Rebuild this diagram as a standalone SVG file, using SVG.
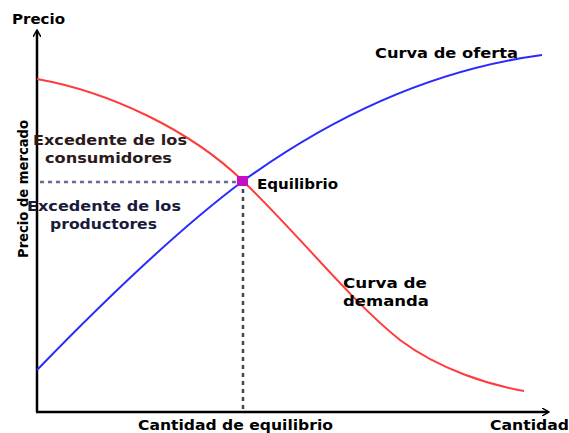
<svg xmlns="http://www.w3.org/2000/svg" width="569" height="433" viewBox="0 0 569 433">
<defs>
<style>
text{font-family:"DejaVu Sans","Verdana",sans-serif;font-size:13.5px;font-weight:bold;fill:#000;}
.prod{fill:#1a1a3a;}
.cons{fill:#2a1a1a;}
.axis{stroke:#000;stroke-width:2.5;fill:none;}
.curve{fill:none;stroke-width:2;}
</style>
<marker id="ah" markerWidth="8" markerHeight="8" refX="6" refY="4" orient="auto" markerUnits="userSpaceOnUse">
<path d="M0,0 L7,4 L0,8" fill="none" stroke="#000" stroke-width="1.5"/>
</marker>
</defs>
<rect width="569" height="433" fill="#fff"/>
<g id="connectors">
<path id="y-axis" class="axis" d="M37,412 L37,31" marker-end="url(#ah)"/>
<path id="x-axis" class="axis" d="M36,412 L548,412" stroke="#333" marker-end="url(#ah)"/>
<path id="demanda" class="curve" stroke="#ff3b3b" d="M37,79 C110,92 190,130 243,181 C300,236 350,300 400,340 C440,370 490,385 524,391"/>
<path id="oferta" class="curve" stroke="#2a2aff" d="M37,370 C100,305 180,228 243,181 C330,118 430,70 542,55"/>
<path id="precio-eq" d="M40,182 L236,182" stroke="#6a6a9a" stroke-width="2.5" stroke-dasharray="4,4" fill="none"/>
<path id="cantidad-eq" d="M243,189 L243,412" stroke="#444" stroke-width="2.5" stroke-dasharray="4,4" fill="none"/>
</g>
<g id="equilibrio">
<rect x="237" y="176" width="11" height="10" fill="#c010c0"/>
<text x="257" y="189" textLength="81" lengthAdjust="spacingAndGlyphs">Equilibrio</text>
</g>
<g id="label-precio"><text x="12" y="24" textLength="53" lengthAdjust="spacingAndGlyphs">Precio</text></g>
<g id="label-cantidad"><text x="490" y="430" textLength="79" lengthAdjust="spacingAndGlyphs">Cantidad</text></g>
<g id="label-cantidad-eq"><text x="138" y="430" textLength="195" lengthAdjust="spacingAndGlyphs">Cantidad de equilibrio</text></g>
<g id="label-precio-mercado"><text transform="translate(28,258) rotate(-90)" x="0" y="0" textLength="138" lengthAdjust="spacingAndGlyphs">Precio de mercado</text></g>
<g id="label-oferta"><text x="375" y="58" textLength="143" lengthAdjust="spacingAndGlyphs">Curva de oferta</text></g>
<g id="label-demanda">
<text x="343" y="288" textLength="84" lengthAdjust="spacingAndGlyphs">Curva de</text>
<text x="343" y="306" textLength="86" lengthAdjust="spacingAndGlyphs">demanda</text>
</g>
<g id="excedente-consumidores">
<text class="cons" x="33" y="145" textLength="154" lengthAdjust="spacingAndGlyphs">Excedente de los</text>
<text class="cons" x="45" y="163" textLength="127" lengthAdjust="spacingAndGlyphs">consumidores</text>
</g>
<g id="excedente-productores">
<text class="prod" x="27" y="211" textLength="154" lengthAdjust="spacingAndGlyphs">Excedente de los</text>
<text class="prod" x="50" y="229" textLength="107" lengthAdjust="spacingAndGlyphs">productores</text>
</g>
</svg>
